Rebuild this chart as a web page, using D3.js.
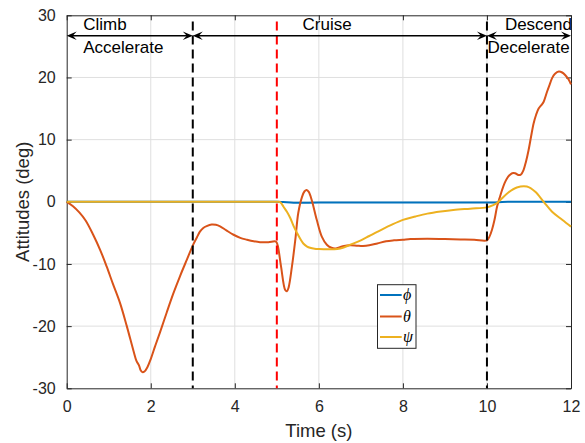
<!DOCTYPE html>
<html>
<head>
<meta charset="utf-8">
<script src="https://cdn.jsdelivr.net/npm/d3@7"></script>
<style>
  html, body { margin: 0; padding: 0; background: #fff; }
  svg { display: block; font-family: "Liberation Sans", Arial, Helvetica, sans-serif; }
</style>
</head>
<body>
<svg id="chart" width="585" height="443"></svg>
<script>
// Attitude angles (deg) over the flight, by phase
const phiTime  = [0, 1, 2, 3, 4, 4.9, 5.0, 5.15, 5.4, 6, 7.0, 8, 9, 10.2, 10.5, 11, 12.0];
const phiValue = [0, 0, 0, 0, 0, 0, 0, -0.05, -0.15, -0.13, -0.12, -0.11, -0.1, -0.1, 0.02, 0, 0];

const thetaTime = [0, 0.15, 0.3, 0.45, 0.63, 0.8, 0.95, 1.1, 1.27, 1.43, 1.59, 1.66, 1.72, 1.76, 1.8, 1.85, 1.92, 2.0, 2.1, 2.22, 2.38, 2.54, 2.7, 2.86, 3.01, 3.1, 3.17, 3.25, 3.33, 3.45, 3.55, 3.65, 3.8, 3.97, 4.13, 4.29, 4.45, 4.6, 4.8, 4.98, 5.02, 5.1, 5.2, 5.24, 5.28, 5.36, 5.44, 5.51, 5.6, 5.66, 5.71, 5.76, 5.83, 5.95, 6.07, 6.19, 6.3, 6.4, 6.5, 6.6, 6.75, 6.9, 7.05, 7.2, 7.39, 7.6, 7.79, 8.0, 8.18, 8.58, 9.0, 9.37, 9.7, 10.0, 10.06, 10.12, 10.18, 10.24, 10.3, 10.36, 10.42, 10.48, 10.54, 10.6, 10.67, 10.75, 10.81, 10.87, 10.93, 10.99, 11.05, 11.11, 11.17, 11.23, 11.3, 11.35, 11.43, 11.5, 11.55, 11.62, 11.71, 11.79, 11.86, 11.94, 12.0];
const thetaValue = [0, -0.7, -1.7, -3.0, -5.3, -7.8, -10.4, -13.2, -16.3, -20.0, -24.0, -25.6, -26.3, -27.1, -27.4, -27.3, -26.6, -25.3, -23.3, -21.0, -17.8, -14.7, -11.9, -9.3, -6.9, -5.7, -4.8, -4.2, -3.9, -3.65, -3.7, -3.95, -4.6, -5.3, -5.8, -6.1, -6.35, -6.5, -6.5, -6.4, -7.0, -10.4, -14.2, -14.4, -13.8, -10.4, -6.1, -1.8, 0.8, 1.7, 1.9, 1.6, 0.3, -2.9, -5.6, -6.9, -7.4, -7.5, -7.3, -7.1, -7.0, -7.05, -7.1, -7.0, -6.7, -6.35, -6.2, -6.1, -6.0, -5.95, -6.0, -6.05, -6.1, -6.2, -5.6, -4.5, -2.9, -0.8, 0.6, 1.9, 3.0, 3.8, 4.3, 4.6, 4.6, 4.3, 4.4, 5.1, 6.5, 8.3, 10.5, 12.6, 14.0, 15.0, 15.6, 16.1, 17.7, 19.0, 19.9, 20.6, 20.95, 20.8, 20.4, 19.7, 18.9];

const psiTime  = [0, 1, 2, 3, 4, 4.7, 4.95, 5.05, 5.1, 5.16, 5.24, 5.32, 5.4, 5.48, 5.56, 5.63, 5.72, 5.79, 5.9, 6.0, 6.2, 6.44, 6.59, 6.75, 7.0, 7.2, 7.4, 7.7, 8.0, 8.3, 8.58, 8.9, 9.2, 9.6, 10.0, 10.16, 10.24, 10.32, 10.51, 10.71, 10.95, 11.15, 11.35, 11.55, 11.79, 12.0];
const psiValue = [0, 0, 0, 0, 0, 0, 0, 0, -0.2, -0.8, -1.6, -2.6, -3.9, -5.0, -6.0, -6.7, -7.2, -7.4, -7.55, -7.6, -7.65, -7.6, -7.35, -6.9, -6.2, -5.5, -4.8, -3.8, -2.9, -2.35, -1.9, -1.55, -1.3, -1.1, -0.9, -0.5, -0.2, 0.3, 1.5, 2.3, 2.45, 1.6, 0, -1.6, -2.9, -4.0];

const seriesNames  = ["\u03D5", "\u03B8", "\u03C8"];
const seriesColors = ["#0072BD", "#D95319", "#EDB120"];

// Flight phases: start/end time and the two caption lines
const phaseStart = [0, 3, 10];
const phaseEnd   = [3, 10, 12];
const phaseTop    = ["Climb", "Cruise", "Descend"];
const phaseBottom = ["Accelerate", "", "Decelerate"];

// Phase boundaries and the disturbance instant
const markerTime  = [3, 5, 10];
const markerColor = ["#000000", "#ff0000", "#000000"];

const xTicks = [0, 2, 4, 6, 8, 10, 12];
const yTicks = [-30, -20, -10, 0, 10, 20, 30];

const svg = d3.select("#chart");
const axisColor = "#262626";

const x = d3.scaleLinear().domain([0, 12]).range([66.7, 571]);
const y = d3.scaleLinear().domain([-30, 30]).range([388.3, 15.3]);
const [x0, x1] = x.range();
const [y0, y1] = y.range();

// grid
const grid = svg.append("g").attr("stroke", "#dfdfdf").attr("stroke-width", 1);
grid.selectAll(".gx").data(xTicks.slice(1, -1)).join("line")
  .attr("x1", d => x(d)).attr("x2", d => x(d)).attr("y1", y1).attr("y2", y0);
grid.selectAll(".gy").data(yTicks.slice(1, -1)).join("line")
  .attr("y1", d => y(d)).attr("y2", d => y(d)).attr("x1", x0).attr("x2", x1);

// axes: ticks inward on all four sides, plain hyphen for negatives
const tickLen = 5;
const fmt = d => String(d);
function styleAxis(g) {
  g.select(".domain").attr("stroke", axisColor).attr("stroke-width", 1);
  g.selectAll(".tick line").attr("stroke", axisColor);
  g.selectAll(".tick text").attr("fill", axisColor).attr("font-size", 16)
    .attr("font-family", "Liberation Sans, Arial, sans-serif");
}
svg.append("g").attr("transform", `translate(0,${y0})`)
  .call(d3.axisBottom(x).tickValues(xTicks).tickFormat(fmt).tickSizeInner(-tickLen).tickSizeOuter(0).tickPadding(12))
  .call(styleAxis);
svg.append("g").attr("transform", `translate(0,${y1})`)
  .call(d3.axisTop(x).tickValues(xTicks).tickFormat("").tickSizeInner(-tickLen).tickSizeOuter(0))
  .call(styleAxis);
svg.append("g").attr("transform", `translate(${x0},0)`)
  .call(d3.axisLeft(y).tickValues(yTicks).tickFormat(fmt).tickSizeInner(-tickLen).tickSizeOuter(0).tickPadding(11))
  .call(styleAxis);
svg.append("g").attr("transform", `translate(${x1},0)`)
  .call(d3.axisRight(y).tickValues(yTicks).tickFormat("").tickSizeInner(-tickLen).tickSizeOuter(0))
  .call(styleAxis);

// axis titles
svg.append("text").attr("x", (x0 + x1) / 2).attr("y", 436.5)
  .attr("text-anchor", "middle").attr("font-size", 18.5).attr("fill", axisColor)
  .text("Time (s)");
svg.append("text").attr("transform", `translate(29,${(y0 + y1) / 2}) rotate(-90)`)
  .attr("text-anchor", "middle").attr("font-size", 18.5).attr("fill", axisColor)
  .text("Attitudes (deg)");

// data lines
const line = d3.line().x(d => x(d[0])).y(d => y(d[1])).curve(d3.curveCatmullRom.alpha(0.5));
const series = [
  d3.zip(phiTime, phiValue),
  d3.zip(thetaTime, thetaValue),
  d3.zip(psiTime, psiValue)
];
const plot = svg.append("g");
series.forEach((s, i) => {
  plot.append("path").datum(s)
    .attr("fill", "none").attr("stroke", seriesColors[i]).attr("stroke-width", 2)
    .attr("stroke-linejoin", "round").attr("d", line);
});

// vertical phase markers
svg.append("g").selectAll("line").data(markerTime).join("line")
  .attr("x1", d => x(d)).attr("x2", d => x(d))
  .attr("y1", y(29)).attr("y2", y0)
  .attr("stroke", (d, i) => markerColor[i]).attr("stroke-width", 2)
  .attr("stroke-dasharray", "9,5");

// phase arrows and captions
const arrowY = y(26.7);
const ann = svg.append("g");
function head(px, dir) {
  // concave-back arrowhead pointing in dir (+1 right, -1 left)
  const L = 10, W = 4.2, N = 6;
  return `M${px},${arrowY} L${px - dir * L},${arrowY - W} L${px - dir * N},${arrowY} L${px - dir * L},${arrowY + W} Z`;
}
phaseStart.forEach((s, i) => {
  const a = x(s), b = x(phaseEnd[i]);
  ann.append("line").attr("x1", a + 3).attr("x2", b - 3)
    .attr("y1", arrowY).attr("y2", arrowY).attr("stroke", "#000").attr("stroke-width", 1.6);
  ann.append("path").attr("d", head(a, -1)).attr("fill", "#000");
  ann.append("path").attr("d", head(b, 1)).attr("fill", "#000");
});
const capSize = 17;
ann.append("text").attr("x", x(0) + 16.5).attr("y", 30).attr("font-size", capSize).text(phaseTop[0]);
ann.append("text").attr("x", x(0) + 16.5).attr("y", 52.5).attr("font-size", capSize).text(phaseBottom[0]);
ann.append("text").attr("x", x(5.6) + 0.5).attr("y", 30).attr("font-size", capSize).text(phaseTop[1]);
ann.append("text").attr("x", x(12) + 1).attr("y", 30).attr("text-anchor", "end").attr("font-size", capSize).text(phaseTop[2]);
ann.append("text").attr("x", x(10) + 0.5).attr("y", 53).attr("font-size", capSize).text(phaseBottom[2]);

// legend
const lg = svg.append("g");
lg.append("rect").attr("x", 377.5).attr("y", 284.7).attr("width", 38.5).attr("height", 63.6)
  .attr("fill", "#fff").attr("stroke", axisColor).attr("stroke-width", 1);
const rowY = [295, 316.5, 337];
seriesNames.forEach((n, i) => {
  lg.append("line").attr("x1", 380).attr("x2", 401.7).attr("y1", rowY[i]).attr("y2", rowY[i])
    .attr("stroke", seriesColors[i]).attr("stroke-width", 2);
  lg.append("text").attr("x", 403).attr("y", rowY[i] + 5)
    .attr("font-family", "Liberation Serif, DejaVu Serif, serif").attr("font-style", "italic")
    .attr("font-size", 16).attr("fill", "#000").text(n);
});
</script>
</body>
</html>
